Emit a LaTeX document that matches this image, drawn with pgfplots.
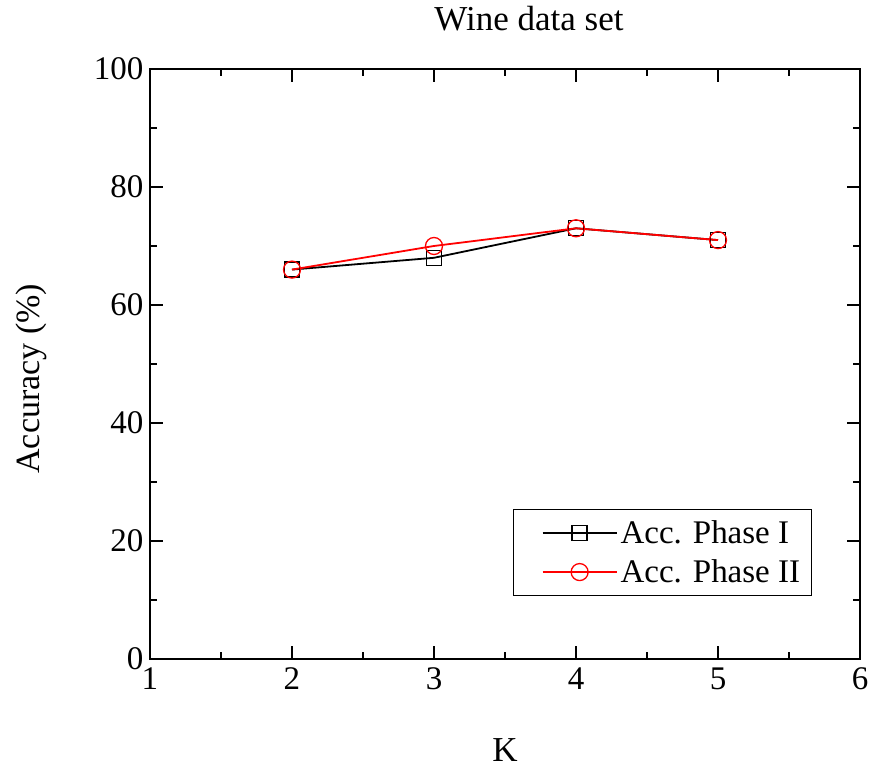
\documentclass[border=0pt]{standalone}
\usepackage{fontspec}
\setmainfont{Liberation Serif}
\usepackage{pgfplots}
\pgfplotsset{compat=1.18}

\pgfplotstableread{
k  acc
2  66
3  68
4  73
5  71
}\phaseone
\pgfplotstableread{
k  acc
2  66
3  70
4  73
5  71
}\phasetwo

\begin{document}
\begin{tikzpicture}
\begin{axis}[
    scale only axis,
    width=710pt, height=590pt,
    xmin=1, xmax=6, ymin=0, ymax=100,
    xtick={1,2,3,4,5,6},
    ytick={0,20,40,60,80,100},
    minor x tick num=1,
    minor y tick num=1,
    tick align=inside,
    major tick length=13pt,
    minor tick length=7pt,
    axis line style={line width=1.6pt},
    every tick/.style={line width=1.6pt, black},
    /pgf/number format/assume math mode=true,
    tick label style={font=\fontsize{33}{38}\selectfont},
    x tick label style={yshift=-5pt},
    y tick label style={xshift=-3pt},
    title={Wine data set},
    title style={font=\fontsize{35}{42}\selectfont, at={(axis description cs:0.5,1)}, anchor=base, yshift=32pt, xshift=24pt},
    xlabel={K},
    xlabel style={font=\fontsize{35}{42}\selectfont, at={(axis description cs:0.5,-0.1729)}, anchor=base},
    ylabel={Accuracy (\%)},
    ylabel style={font=\fontsize{34}{40}\selectfont, at={(axis description cs:-0.155,0.475)}, anchor=base, rotate=0},
    legend style={font=\fontsize{33}{40}\selectfont, at={(axis description cs:0.932,0.107)}, anchor=south east,
        draw=black, line width=1.2pt, inner xsep=8pt, inner ysep=8pt, row sep=9pt,
        nodes={inner sep=3pt}},
    legend cell align=left,
    legend image code/.code={\path (-26pt,0pt);\draw[mark repeat=2,mark phase=2,#1] plot coordinates {(-6pt,0pt)(31pt,0pt)(68pt,0pt)};},
]
\addplot[black, line width=1.8pt, mark=square, mark size=7.5pt, mark options={line width=1.3pt, fill=white}] table[x=k, y=acc] {\phaseone};
\addlegendentry{Acc. Phase I}
\addplot[red, line width=1.8pt, mark=o, mark size=8.5pt, mark options={line width=1.3pt, fill=white}] table[x=k, y=acc] {\phasetwo};
\addlegendentry{Acc. Phase II}
\end{axis}
\pgfresetboundingbox
\useasboundingbox (-150pt,-108pt) rectangle (723pt,659pt);
\end{tikzpicture}
\end{document}
